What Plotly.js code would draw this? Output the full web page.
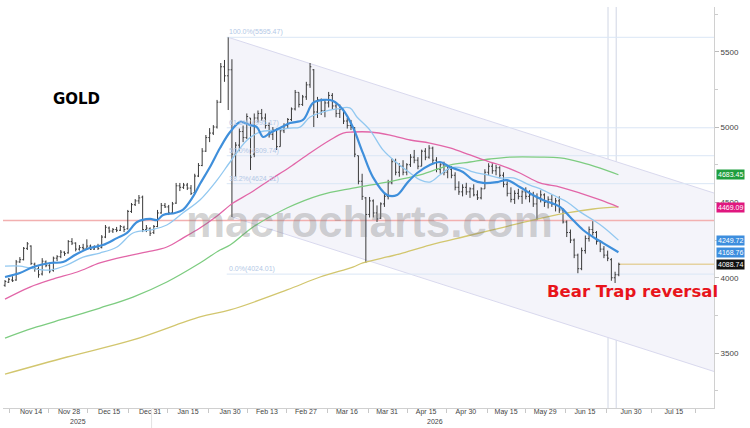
<!DOCTYPE html>
<html><head><meta charset="utf-8">
<script src="https://cdn.plot.ly/plotly-3.0.1.min.js"></script>
<style>html,body{margin:0;padding:0;background:#fff}#chart{width:750px;height:428px}</style>
</head><body><div id="chart"></div><script>
// ---- OHLC data (one bar per trading day) ----
const open  = [3950,3970,3985,3985,4105,4120,4195,4210,4090,4060,4025,4105,4080,4050,4130,4140,4170,4165,4240,4230,4190,4200,4195,4210,4190,4205,4200,4270,4330,4310,4320,4315,4335,4325,4440,4485,4510,4535,4320,4325,4300,4340,4430,4480,4470,4430,4495,4610,4600,4615,4595,4565,4675,4745,4840,4930,4960,5000,5165,5400,5340,5380,4820,4880,4970,4930,5060,4820,5060,5090,5060,5010,4950,4980,4870,4975,5010,5050,5120,5230,5150,5200,5280,5380,5100,5180,5110,5160,5210,5140,5090,5120,5040,5010,4995,4810,4640,4530,4420,4510,4430,4395,4490,4540,4630,4770,4700,4740,4700,4750,4800,4780,4740,4840,4800,4860,4780,4720,4750,4700,4720,4680,4600,4570,4600,4570,4590,4550,4530,4590,4700,4740,4710,4730,4680,4620,4560,4520,4560,4540,4570,4540,4550,4490,4530,4550,4500,4520,4490,4510,4450,4370,4300,4250,4150,4060,4180,4260,4320,4300,4240,4190,4150,4120,4000,4020];
const high  = [3985,3998,4010,4118,4137,4204,4237,4215,4100,4075,4130,4115,4090,4140,4150,4184,4175,4250,4263,4235,4217,4225,4255,4220,4215,4225,4283,4350,4340,4330,4337,4350,4345,4450,4496,4522,4549,4545,4350,4335,4350,4450,4496,4496,4483,4503,4629,4629,4629,4629,4615,4690,4761,4860,4947,4993,5013,5180,5425,5445,5595,5450,4900,4990,5010,5090,5060,5090,5110,5120,5090,5030,5000,4990,4990,5025,5060,5130,5246,5230,5213,5300,5425,5385,5200,5190,5180,5233,5225,5160,5150,5120,5060,5047,5000,4810,4690,4536,4536,4520,4480,4500,4560,4650,4793,4790,4760,4780,4760,4820,4848,4800,4850,4860,4880,4870,4800,4760,4770,4740,4740,4700,4640,4620,4630,4600,4620,4580,4600,4720,4760,4760,4750,4740,4700,4640,4600,4580,4590,4580,4600,4580,4570,4560,4580,4560,4540,4550,4530,4540,4460,4380,4320,4260,4160,4200,4280,4340,4375,4310,4250,4210,4180,4130,4040,4100];
const low   = [3940,3965,3972,3980,4098,4115,4184,4085,4040,4000,4015,4070,4030,4040,4110,4130,4145,4160,4217,4175,4180,4184,4184,4184,4185,4184,4195,4263,4297,4297,4303,4310,4303,4320,4430,4476,4490,4303,4303,4277,4290,4335,4425,4463,4416,4425,4490,4575,4589,4582,4549,4560,4668,4740,4835,4900,4947,4990,5160,5300,5113,4403,4668,4840,4900,4920,4715,4800,5030,5040,4990,4930,4914,4848,4870,4960,4990,5040,5110,5130,5140,5180,5260,5000,5060,5080,5065,5130,5120,5065,5060,5020,4990,4980,4800,4620,4516,4098,4400,4400,4370,4390,4470,4520,4620,4680,4670,4680,4680,4735,4760,4720,4740,4780,4790,4760,4700,4690,4680,4660,4660,4580,4550,4540,4550,4530,4540,4516,4520,4590,4680,4690,4680,4660,4600,4540,4500,4490,4520,4490,4520,4500,4470,4383,4500,4470,4460,4470,4440,4430,4360,4270,4230,4130,4030,4050,4160,4240,4280,4220,4170,4130,4110,3980,3965,4010];
const close = [3975,3990,3980,4105,4120,4195,4225,4095,4060,4020,4110,4080,4045,4130,4140,4170,4160,4240,4230,4190,4200,4195,4210,4190,4205,4195,4270,4335,4310,4320,4315,4340,4320,4440,4485,4510,4530,4320,4330,4295,4340,4430,4480,4470,4430,4490,4610,4600,4615,4595,4560,4675,4745,4840,4930,4960,5000,5165,5400,5340,5380,4820,4880,4970,4930,5070,4800,5060,5090,5060,5010,4950,4980,4870,4975,5010,5050,5120,5230,5150,5200,5280,5400,5100,5180,5110,5160,5210,5140,5090,5120,5040,5010,5000,4820,4640,4540,4420,4510,4430,4390,4490,4540,4630,4770,4700,4740,4700,4750,4800,4780,4740,4840,4800,4860,4780,4720,4750,4700,4720,4680,4600,4570,4600,4570,4590,4550,4530,4590,4700,4740,4710,4730,4680,4620,4560,4520,4560,4540,4570,4540,4550,4490,4530,4550,4500,4520,4490,4510,4450,4370,4300,4250,4150,4060,4180,4260,4320,4300,4240,4190,4150,4130,4000,4020,4088.74];

// ---- moving averages (bar index, value) ----
const maFastIdx = [0,4,7.5,12.1,15.6,18.8,22.8,26.3,30.1,32.8,35.5,39,40.9,42.5,45.7,47.8,50.5,52.4,55.1,57.8,60.5,63.2,65.9,67.7,69.4,71.2,73.9,76.6,80.1,82.8,85.5,88.2,90.9,93.5,96.2,98.9,102.7,105.4,108.1,110.8,114.2,116.9,119.6,123.1,125.8,128.5,132.3,134.9,138.4,141.9,144.6,149.2,151.9,155.4,158.1,160.8,164.9];
const maFastVal = [4005,4031,4071,4098,4104,4151,4197,4217,4263,4297,4370,4390,4383,4416,4430,4450,4536,4622,4735,4861,4967,5033,5013,5000,4934,4960,4993,5027,5047,5160,5180,5173,5113,5000,4828,4668,4549,4549,4629,4695,4748,4768,4735,4702,4648,4629,4635,4648,4602,4549,4516,4470,4403,4317,4270,4230,4168.76];
const ma20Idx = [0,4,6.7,12.1,16.7,21.0,25.5,30.1,34.4,39.0,43.5,47.8,52.4,57.0,60.5,65.1,68.5,73.1,76.6,79.3,82.0,85.5,89.2,92.7,94.6,98.1,101.6,105.4,108.9,111.6,114.2,116.9,119.6,123.1,125.8,129.6,133.1,136.6,141.1,144.6,148.4,151.1,154.6,158.1,160.8,164.9];
const ma20Val = [4077,4077,4064,4051,4085,4137,4164,4204,4297,4317,4350,4430,4516,4648,4768,4914,4967,4980,4993,5000,5067,5100,5120,5127,5067,4980,4848,4761,4695,4649,4635,4682,4728,4728,4702,4682,4662,4662,4615,4582,4536,4503,4437,4383,4337,4249.72];
const ma50Idx = [0,6.7,12.9,19.4,25.5,32.8,38.2,43.5,47.8,52.4,57.0,61.3,65.9,71.2,76.6,82.0,87.4,90.9,93.5,98.1,103.5,108.9,114.2,119.6,125.0,130.4,133.1,138.4,143.8,149.2,154.6,160.0,164.9];
const ma50Val = [3858,3938,3991,4038,4098,4144,4171,4204,4263,4330,4410,4496,4562,4649,4735,4828,4914,4960,4967,4967,4947,4914,4894,4861,4815,4768,4748,4695,4629,4602,4562,4516,4469.09];
const ma100Idx = [0,7.5,16.7,25.5,34.4,43.5,52.4,57.8,60.5,66.7,75.8,84.7,93.5,102.7,111.6,119.6,125.0,130.4,135.8,143.8,149.2,154.6,160.0,164.9];
const ma100Val = [3600,3666,3733,3799,3872,3972,4098,4184,4217,4337,4463,4549,4595,4635,4682,4748,4768,4788,4801,4801,4795,4768,4728,4683.45];
const ma200Idx = [0,16.7,34.4,52.4,60.5,75.8,84.7,93.5,96.2,102.7,106.2,114.2,124.2,133.1,141.9,151.1,158.1,164.9];
const ma200Val = [3360,3474,3587,3740,3786,3919,4005,4071,4098,4138,4158,4217,4277,4330,4383,4430,4456,4470];

// ---- axis labels ----
const tickVals = [7.0,17.2,28.0,39.0,49.2,60.5,70.4,80.9,91.9,102.7,113.2,123.9,134.7,145.2,155.9,168.3,179.8];
const tickText = ['Nov 14','Nov 28','Dec 15','Dec 31','Jan 15','Jan 30','Feb 13','Feb 27','Mar 16','Mar 31','Apr 15','Apr 30','May 15','May 29','Jun 15','Jun 30','Jul 15'];
const tickMarkVals = [1.3,11.6,22.3,33.3,43.8,54.6,65.3,75.8,86.8,97.6,108.3,118.8,129.6,139.8,150.8,161.8,173.7,185.5];
const yearText = ['2025','2026'];
const yearPos = [19.6,115.6];

// ---- drawn levels ----
const fibLevels = [5595.47,4995.17,4809.74,4624.31,4024.01];
const fibText = ['100.0%(5595.47)','61.8%(4995.17)','50.0%(4809.74)','38.2%(4624.31)','0.0%(4024.01)'];
const fibStart = 59.6;
const channelUpperX = [60, 190.59], channelUpperY = [5595.47, 4562];
const channelLowerX = [61, 190.59], channelLowerY = [4403, 3378];
const redLevel = 4380;
const markerDays = [162.1, 164.3];
const lastPrice = 4088.74;
const tagValues = [4683.45, 4469.09, 4249.72, 4168.76, 4088.74];
const tagColors = ['#1f9e3e', '#e0177f', '#3d8ede', '#3d8ede', '#111111'];

const X0 = -0.54, X1 = 190.59;
const barIndex = open.map((_, i) => i);

const traces = [
  {type:'ohlc', x:barIndex, open:open, high:high, low:low, close:close,
   increasing:{line:{color:'#3a3a3a', width:1}}, decreasing:{line:{color:'#3a3a3a', width:1}},
   tickwidth:0.35, hoverinfo:'skip', showlegend:false},
  {type:'scatter', mode:'lines', x:ma200Idx, y:ma200Val, line:{color:'#d2c66e', width:1.3, shape:'spline'}, hoverinfo:'skip'},
  {type:'scatter', mode:'lines', x:ma100Idx, y:ma100Val, line:{color:'#7dcc80', width:1.3, shape:'spline'}, hoverinfo:'skip'},
  {type:'scatter', mode:'lines', x:ma50Idx, y:ma50Val, line:{color:'#e266a8', width:1.3, shape:'spline'}, hoverinfo:'skip'},
  {type:'scatter', mode:'lines', x:ma20Idx, y:ma20Val, line:{color:'#92c8f0', width:1.3, shape:'spline'}, hoverinfo:'skip'},
  {type:'scatter', mode:'lines', x:maFastIdx, y:maFastVal, line:{color:'#3f8fdb', width:2.2, shape:'spline'}, hoverinfo:'skip'},
  {type:'scatter', mode:'lines', x:[], y:[], xaxis:'x2', yaxis:'y', hoverinfo:'skip'}
];

const shapes = [];
shapes.push({type:'path', layer:'below', xref:'x', yref:'y',
  path:`M ${channelUpperX[0]},${channelUpperY[0]} L ${channelUpperX[1]},${channelUpperY[1]} L ${channelLowerX[1]},${channelLowerY[1]} L ${channelLowerX[0]},${channelLowerY[0]} Z`,
  fillcolor:'#f4f4fa', line:{width:0}});
shapes.push({type:'line', layer:'below', xref:'x', yref:'y', x0:channelUpperX[0], x1:channelUpperX[1], y0:channelUpperY[0], y1:channelUpperY[1], line:{color:'#d9d9ee', width:1}});
shapes.push({type:'line', layer:'below', xref:'x', yref:'y', x0:channelLowerX[0], x1:channelLowerX[1], y0:channelLowerY[0], y1:channelLowerY[1], line:{color:'#d9d9ee', width:1}});
fibLevels.forEach(v => shapes.push({type:'line', layer:'below', xref:'x', yref:'y', x0:fibStart, x1:X1, y0:v, y1:v, line:{color:'#dae6f5', width:1}}));
shapes.push({type:'line', layer:'below', xref:'x', yref:'y', x0:X0, x1:X1, y0:redLevel, y1:redLevel, line:{color:'#f2b0b0', width:1.5}});
markerDays.forEach(d => shapes.push({type:'line', layer:'below', xref:'x', yref:'paper', x0:d, x1:d, y0:0, y1:1, line:{color:'#d0d6e4', width:1}}));
shapes.push({type:'line', layer:'below', xref:'x', yref:'y', x0:barIndex[barIndex.length-1], x1:X1, y0:lastPrice, y1:lastPrice, line:{color:'#e5d2a0', width:1.5}});
shapes.push({type:'line', xref:'x', yref:'paper', x0:39.4, x1:39.4, y0:-0.05, y1:0, line:{color:'#e2e2e2', width:1}});

const annotations = [];
fibLevels.forEach((v, k) => annotations.push({xref:'x', yref:'y', x:fibStart+0.2, y:v, text:fibText[k], showarrow:false,
  xanchor:'left', yanchor:'bottom', yshift:-1, font:{family:'Liberation Sans', size:7, color:'#b3c8e6'}}));
tagValues.forEach((v, k) => annotations.push({xref:'paper', yref:'y', x:1, y:v, xanchor:'left', yanchor:'middle', xshift:2, text:v.toFixed(2),
  showarrow:false, bgcolor:tagColors[k], borderpad:1, font:{family:'Liberation Sans', size:7, color:'#ffffff'}}));
yearText.forEach((t, k) => annotations.push({xref:'x', yref:'paper', x:yearPos[k], y:-0.034, xanchor:'center', yanchor:'middle', text:t, showarrow:false,
  font:{family:'Liberation Sans', size:7, color:'#444'}}));
annotations.push({xref:'paper', yref:'paper', x:0.516, y:0.464, xanchor:'center', yanchor:'middle', text:'<b>macrocharts.com</b>', showarrow:false,
  font:{family:'Liberation Sans', size:44, color:'rgba(120,120,120,0.33)'}});
annotations.push({xref:'paper', yref:'paper', x:0.1027, y:0.7706, xanchor:'center', yanchor:'middle', text:'<b>GOLD</b>', showarrow:false,
  font:{family:'DejaVu Sans', size:15, color:'#000'}});
annotations.push({xref:'paper', yref:'paper', x:0.8847, y:0.2893, xanchor:'center', yanchor:'middle', text:'<b>Bear Trap reversal</b>', showarrow:false,
  font:{family:'DejaVu Sans', size:16.5, color:'#e8141b'}});

const layout = {
  width:750, height:428, margin:{l:3, r:36, t:7, b:20},
  paper_bgcolor:'#fff', plot_bgcolor:'#fff', showlegend:false, hovermode:false,
  xaxis:{range:[X0, X1], tickmode:'array', tickvals:tickVals, ticktext:tickText, ticks:'', showline:true, linecolor:'#d0d0d0',
    showgrid:false, zeroline:false, rangeslider:{visible:false}, fixedrange:true, ticklabelstandoff:-3,
    tickfont:{family:'Liberation Sans', size:7, color:'#444'}},
  xaxis2:{range:[X0, X1], overlaying:'x', anchor:'y', side:'bottom', tickmode:'array', tickvals:tickMarkVals, showticklabels:false,
    ticks:'outside', ticklen:4, tickcolor:'#c8c8c8', showline:false, showgrid:false, zeroline:false, fixedrange:true},
  yaxis:{side:'right', range:[3135.6, 5796.6], tickmode:'linear', tick0:3500, dtick:500, ticks:'outside', ticklen:4, tickcolor:'#bbb',
    showline:true, linecolor:'#d0d0d0', showgrid:false, zeroline:false, fixedrange:true,
    minor:{dtick:250, tick0:3250, ticks:'outside', ticklen:3, tickcolor:'#ccc', showgrid:false},
    tickfont:{family:'Liberation Sans', size:8, color:'#444'}},
  shapes:shapes, annotations:annotations
};
Plotly.newPlot('chart', traces, layout, {staticPlot:true, displayModeBar:false});
</script></body></html>
